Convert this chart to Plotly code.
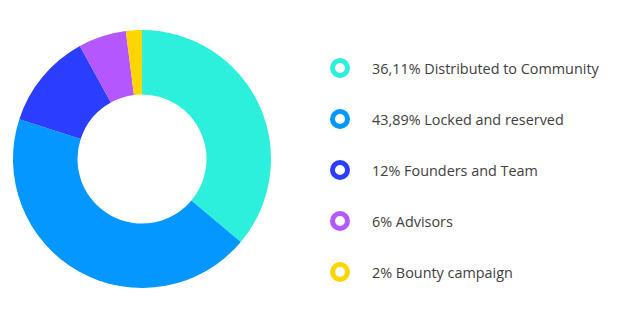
import plotly.graph_objects as go

labels = ["Distributed to Community", "Locked and reserved", "Founders and Team", "Advisors", "Bounty campaign"]
values = [36.11, 43.89, 12, 6, 2]
pct_text = ["36,11%", "43,89%", "12%", "6%", "2%"]
colors = ["#2CF0DC", "#0497FF", "#2B3EFF", "#B457FF", "#FFD500"]

W, H = 621, 324
cx, cy, r = 142, 159, 129

fig = go.Figure()
fig.add_trace(go.Pie(
    labels=labels, values=values, hole=0.5, sort=False, direction="clockwise",
    rotation=0, marker=dict(colors=colors, line=dict(width=0)),
    textinfo="none", hoverinfo="label+percent", showlegend=False,
    domain=dict(x=[(cx - r) / W, (cx + r) / W], y=[(H - cy - r) / H, (H - cy + r) / H]),
))

idx = list(range(len(labels)))
fig.add_trace(go.Scatter(
    x=[340] * len(labels), y=idx, mode="markers", showlegend=False, hoverinfo="skip",
    marker=dict(symbol="circle", size=15, color="white", line=dict(color=colors, width=5)),
    xaxis="x", yaxis="y",
))
for i, (p, l) in enumerate(zip(pct_text, labels)):
    fig.add_annotation(x=370, y=i, xref="x", yref="y", text=f"{p} {l}", showarrow=False,
                       xanchor="left", yanchor="middle",
                       font=dict(family="Open Sans", size=14.4, color="#404040"))

step = 51
top0 = 68
fig.update_layout(
    width=W, height=H, margin=dict(l=0, r=0, t=0, b=0),
    paper_bgcolor="white", plot_bgcolor="rgba(0,0,0,0)",
    xaxis=dict(range=[0, W], domain=[0, 1], visible=False, fixedrange=True),
    yaxis=dict(range=[(H - top0) / step, -top0 / step], domain=[0, 1], visible=False, fixedrange=True),
)
fig.write_html("out.html")
